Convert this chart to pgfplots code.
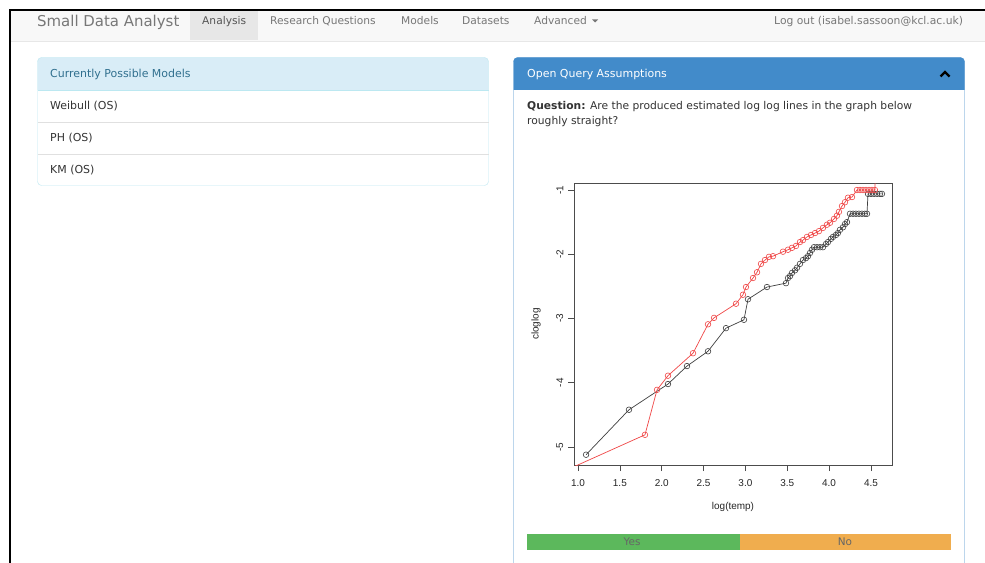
\documentclass[border=0pt]{standalone}
\usepackage{pgfplots}
\pgfplotsset{compat=1.18}
\usepackage{fontspec}
\setmainfont{DejaVu Sans}
\newfontfamily\rfont{Liberation Sans}
\definecolor{navbg}{HTML}{F8F8F8}
\definecolor{navborder}{HTML}{E7E7E7}
\definecolor{navtext}{HTML}{777777}
\definecolor{activebg}{HTML}{E7E7E7}
\definecolor{activetext}{HTML}{555555}
\definecolor{infobg}{HTML}{D9EDF7}
\definecolor{infoborder}{HTML}{BCE8F1}
\definecolor{infotext}{HTML}{31708F}
\definecolor{primary}{HTML}{428BCA}
\definecolor{bodytext}{HTML}{333333}
\definecolor{yesgreen}{HTML}{5CB85C}
\definecolor{noorange}{HTML}{F0AD4E}
\definecolor{rred}{RGB}{240,70,70}
\newcommand\fs[1]{\fontsize{#1}{#1}\selectfont}
\pgfplotstableread{
x y
1.096 -5.12
1.609 -4.42
2.075 -4.02
2.302 -3.74
2.553 -3.51
2.768 -3.15
2.983 -3.02
3.031 -2.70
3.258 -2.51
3.485 -2.45
3.509 -2.37
3.533 -2.34
3.557 -2.29
3.593 -2.25
3.617 -2.21
3.652 -2.15
3.688 -2.09
3.724 -2.06
3.748 -2.03
3.772 -1.98
3.796 -1.93
3.820 -1.89
3.856 -1.89
3.892 -1.89
3.927 -1.89
3.963 -1.84
3.987 -1.81
4.023 -1.76
4.047 -1.73
4.082 -1.70
4.106 -1.67
4.130 -1.62
4.166 -1.58
4.190 -1.53
4.214 -1.50
4.250 -1.37
4.286 -1.37
4.321 -1.37
4.357 -1.37
4.393 -1.37
4.428 -1.37
4.453 -1.37
4.465 -1.06
4.501 -1.06
4.536 -1.06
4.572 -1.06
4.608 -1.06
4.632 -1.06
}\blackdata
\pgfplotstableread{
x y
0.690 -5.46
1.800 -4.81
1.944 -4.11
2.075 -3.89
2.374 -3.54
2.553 -3.09
2.625 -2.99
2.888 -2.77
2.971 -2.63
3.007 -2.51
3.091 -2.37
3.139 -2.28
3.186 -2.15
3.234 -2.09
3.282 -2.04
3.330 -2.03
3.449 -1.96
3.509 -1.93
3.557 -1.90
3.605 -1.87
3.652 -1.81
3.688 -1.78
3.736 -1.73
3.784 -1.70
3.832 -1.67
3.879 -1.64
3.927 -1.59
3.975 -1.54
4.011 -1.51
4.059 -1.45
4.094 -1.40
4.118 -1.34
4.154 -1.25
4.190 -1.19
4.226 -1.12
4.274 -1.11
4.333 -1.00
4.369 -1.00
4.405 -1.00
4.441 -1.00
4.477 -1.00
4.513 -1.00
4.548 -1.00
4.560 -0.40
}\reddata
\begin{document}
\begin{tikzpicture}
\begin{scope}[x=1bp,y=-1bp]
\path[use as bounding box, fill=white] (0,0) rectangle (985,563);
% navbar
\fill[navbg] (10,10) rectangle (985,41);
\draw[navborder] (10,41) -- (985,41);
\fill[activebg] (190,10) rectangle (258,40.5);
\draw[black, line width=1.2bp] (10,563) -- (10,10) -- (985,10);
\node[anchor=base west, inner sep=0, text=navtext, font=\fs{15}] at (37,27) {Small Data Analyst};
\node[anchor=base west, inner sep=0, text=activetext, font=\fs{10.7}] at (202,25) {Analysis};
\node[anchor=base west, inner sep=0, text=navtext, font=\fs{10.7}] at (270,25) {Research Questions};
\node[anchor=base west, inner sep=0, text=navtext, font=\fs{10.7}] at (401,25) {Models};
\node[anchor=base west, inner sep=0, text=navtext, font=\fs{10.7}] at (462,25) {Datasets};
\node[anchor=base west, inner sep=0, text=navtext, font=\fs{10.7}] at (534,25) {Advanced};
\fill[navtext] (592,19.5) -- (598,19.5) -- (595,22.5) -- cycle;
\node[anchor=base west, inner sep=0, text=navtext, font=\fs{10.8}] at (774,25) {Log out (isabel.sassoon@kcl.ac.uk)};
% left panel
\fill[infobg] (37.5,90) {[rounded corners=4bp] -- (37.5,57.5) -- (488.5,57.5)} -- (488.5,90) -- cycle;
\draw[infoborder, rounded corners=4bp] (37.5,57.5) rectangle (488.5,185.5);
\draw[infoborder] (37.5,90) -- (488.5,90);
\draw[black!12] (37.5,122) -- (488.5,122);
\draw[black!12] (37.5,154) -- (488.5,154);
\node[anchor=base west, inner sep=0, text=infotext, font=\fs{11}] at (50,77.5) {Currently Possible Models};
\node[anchor=base west, inner sep=0, text=bodytext, font=\fs{11}] at (50,109.5) {Weibull (OS)};
\node[anchor=base west, inner sep=0, text=bodytext, font=\fs{11}] at (50,141.5) {PH (OS)};
\node[anchor=base west, inner sep=0, text=bodytext, font=\fs{11}] at (50,173.5) {KM (OS)};
% right panel
\fill[primary] (513.5,90) {[rounded corners=4bp] -- (513.5,57.5) -- (964.5,57.5)} -- (964.5,90) -- cycle;
\draw[primary] (513.5,563) {[rounded corners=4bp] -- (513.5,57.5) -- (964.5,57.5)} -- (964.5,563);
\node[anchor=base west, inner sep=0, text=white, font=\fs{11}] at (527,77.5) {Open Query Assumptions};
\draw[black, line width=2.2bp] (940.5,76.5) -- (945,72) -- (949.5,76.5);
\node[anchor=base west, inner sep=0, text=bodytext, font=\fs{10.75}] at (527,110) {\textbf{Question:} Are the produced estimated log log lines in the graph below};
\node[anchor=base west, inner sep=0, text=bodytext, font=\fs{10.75}] at (527,125) {roughly straight?};
% progress bar
\fill[yesgreen] (527,534) rectangle (740,550);
\fill[noorange] (740,534) rectangle (951,550);
\node[text=black!60, font=\fs{10.5}] at (632,542) {Yes};
\node[text=black!60, font=\fs{10.5}] at (845,542) {No};
\end{scope}
\begin{axis}[
  at={(574bp,-465bp)}, anchor=south west,
  scale only axis, width=318bp, height=282bp,
  xmin=0.952, xmax=4.752, ymin=-5.280, ymax=-0.891,
  axis line style={black!70, line width=0.7bp},
  tick pos=left, tick align=outside, major tick length=6bp,
  tick style={black!70, line width=0.7bp},
  xtick={1,1.5,2,2.5,3,3.5,4,4.5},
  xticklabels={1.0,1.5,2.0,2.5,3.0,3.5,4.0,4.5},
  ytick={-5,-4,-3,-2,-1},
  yticklabels={\rotatebox{90}{-5},\rotatebox{90}{-4},\rotatebox{90}{-3},\rotatebox{90}{-2},\rotatebox{90}{-1}},
  ticklabel style={font=\rfont\fs{10}, text=black!85, inner sep=0pt},
  xticklabel style={anchor=north, yshift=-8bp},
  yticklabel style={anchor=east, xshift=-4.5bp},
  xlabel={log(temp)}, ylabel={cloglog},
  label style={font=\rfont\fs{10}, text=black!85},
  xlabel style={at={(axis description cs:0.5,0)}, anchor=center, yshift=-42bp},
  ylabel style={at={(axis description cs:-0.1195,0.5)}, anchor=center},
]
\addplot[black!75, line width=0.7bp, mark=o, mark size=2.8bp, mark options={line width=0.6bp}] table[x=x,y=y] {\blackdata};
\addplot[rred, line width=0.7bp, mark=o, mark size=2.8bp, mark options={line width=0.6bp}] table[x=x,y=y] {\reddata};
\end{axis}
\end{tikzpicture}
\end{document}
